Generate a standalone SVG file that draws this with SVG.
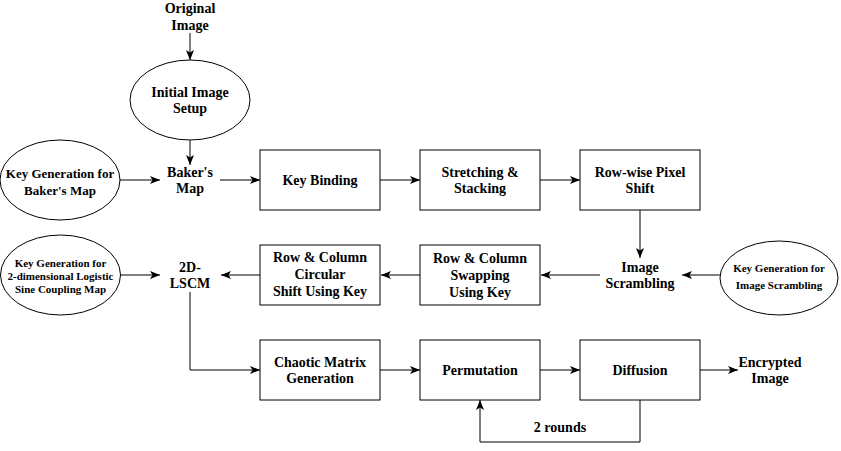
<svg xmlns="http://www.w3.org/2000/svg" width="841" height="451" viewBox="0 0 841 451">
<style>
text{font-family:"Liberation Serif","Times New Roman",serif;font-weight:bold;fill:#000;text-anchor:middle}
.t14{font-size:14px}
.t13{font-size:13px}
.t11{font-size:11px}
.box{fill:#fff;stroke:#000;stroke-width:1}
.edge{fill:none;stroke:#000;stroke-width:1}
</style>
<defs>
<marker id="arr" markerUnits="userSpaceOnUse" markerWidth="11" markerHeight="9" refX="10" refY="4.5" orient="auto">
<path d="M0,0.5 L10,4.5 L0,8.5 L2.5,4.5 z" fill="#000"/>
</marker>
</defs>
<rect width="841" height="451" fill="#fff"/>
<g id="connectors">
<path class="edge" marker-end="url(#arr)" d="M190,33 L190,60"/>
<path class="edge" marker-end="url(#arr)" d="M190,140 L190,165"/>
<path class="edge" marker-end="url(#arr)" d="M120,180 L160,180"/>
<path class="edge" marker-end="url(#arr)" d="M220,180 L260,180"/>
<path class="edge" marker-end="url(#arr)" d="M380,180 L420,180"/>
<path class="edge" marker-end="url(#arr)" d="M540,180 L580,180"/>
<path class="edge" marker-end="url(#arr)" d="M640,210 L640,258"/>
<path class="edge" marker-end="url(#arr)" d="M720,275 L682,275"/>
<path class="edge" marker-end="url(#arr)" d="M600,275 L541,275"/>
<path class="edge" marker-end="url(#arr)" d="M420,275 L381,275"/>
<path class="edge" marker-end="url(#arr)" d="M260,275 L221,275"/>
<path class="edge" marker-end="url(#arr)" d="M120,275 L160,275"/>
<path class="edge" marker-end="url(#arr)" d="M190,292 L190,370 L260,370"/>
<path class="edge" marker-end="url(#arr)" d="M380,370 L420,370"/>
<path class="edge" marker-end="url(#arr)" d="M540,370 L580,370"/>
<path class="edge" marker-end="url(#arr)" d="M700,370 L738,370"/>
<path class="edge" marker-end="url(#arr)" d="M640,400 L640,442 L480,442 L480,400"/>
<text class="t14" x="560" y="431.5">2 rounds</text>
</g>
<g id="original-image">
<text class="t14" x="190" y="13">Original</text>
<text class="t14" x="190" y="30">Image</text>
</g>
<g id="initial-image-setup">
<ellipse class="box" cx="190" cy="100" rx="60" ry="40"/>
<text class="t14" x="190" y="96.5">Initial Image</text>
<text class="t14" x="190" y="113">Setup</text>
</g>
<g id="key-gen-baker">
<ellipse class="box" cx="60" cy="180" rx="60" ry="40"/>
<text class="t13" x="60" y="177.5">Key Generation for</text>
<text class="t13" x="60" y="194.5">Baker's Map</text>
</g>
<g id="bakers-map">
<text class="t14" x="190" y="176.5">Baker's</text>
<text class="t14" x="190" y="193">Map</text>
</g>
<g id="key-binding">
<rect class="box" x="260" y="150" width="120" height="60"/>
<text class="t14" x="320" y="185">Key Binding</text>
</g>
<g id="stretching-stacking">
<rect class="box" x="420" y="150" width="120" height="60"/>
<text class="t14" x="480" y="176.5">Stretching &amp;</text>
<text class="t14" x="480" y="193.3">Stacking</text>
</g>
<g id="row-wise-shift">
<rect class="box" x="580" y="150" width="120" height="60"/>
<text class="t14" x="640" y="176.5">Row-wise Pixel</text>
<text class="t14" x="640" y="193.3">Shift</text>
</g>
<g id="image-scrambling">
<text class="t14" x="640" y="271.5">Image</text>
<text class="t14" x="640" y="288">Scrambling</text>
</g>
<g id="key-gen-scrambling">
<ellipse class="box" cx="779" cy="278" rx="59" ry="37"/>
<text class="t11" x="779" y="272">Key Generation for</text>
<text class="t11" x="779" y="289">Image Scrambling</text>
</g>
<g id="row-col-swapping">
<rect class="box" x="420" y="245" width="120" height="60"/>
<text class="t14" x="480" y="262.5">Row &amp; Column</text>
<text class="t14" x="480" y="280">Swapping</text>
<text class="t14" x="480" y="297">Using Key</text>
</g>
<g id="row-col-circular">
<rect class="box" x="260" y="245" width="120" height="60"/>
<text class="t14" x="320" y="261.5">Row &amp; Column</text>
<text class="t14" x="320" y="279">Circular</text>
<text class="t14" x="320" y="295.5">Shift Using Key</text>
</g>
<g id="lscm">
<text class="t14" x="190" y="271.5">2D-</text>
<text class="t14" x="190" y="288">LSCM</text>
</g>
<g id="key-gen-lscm">
<ellipse class="box" cx="60.5" cy="275" rx="60" ry="40"/>
<text class="t11" x="60.5" y="266.5">Key Generation for</text>
<text class="t11" x="60.5" y="279.5">2-dimensional Logistic</text>
<text class="t11" x="60.5" y="293">Sine Coupling Map</text>
</g>
<g id="chaotic-matrix">
<rect class="box" x="260" y="340" width="120" height="60"/>
<text class="t14" x="320" y="366.5">Chaotic Matrix</text>
<text class="t14" x="320" y="383">Generation</text>
</g>
<g id="permutation">
<rect class="box" x="420" y="340" width="120" height="60"/>
<text class="t14" x="480" y="375">Permutation</text>
</g>
<g id="diffusion">
<rect class="box" x="580" y="340" width="120" height="60"/>
<text class="t14" x="640" y="375">Diffusion</text>
</g>
<g id="encrypted-image">
<text class="t14" x="770" y="366.5">Encrypted</text>
<text class="t14" x="770" y="383">Image</text>
</g>
</svg>
